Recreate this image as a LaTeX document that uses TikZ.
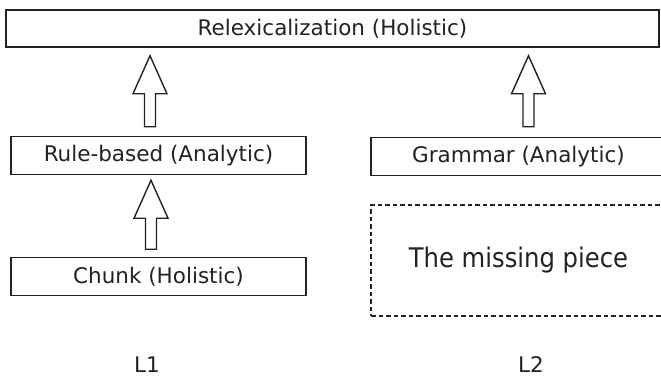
\documentclass[tikz,border=0pt]{standalone}
\usepackage{fontspec}
\setmainfont{DejaVu Sans}
\newfontfamily\condfont{DejaVu Sans Condensed}
\usetikzlibrary{calc}
\definecolor{ink}{HTML}{222222}
\tikzset{
  box/.style={draw=ink,line width=1.5pt,minimum width=295pt,minimum height=38pt,
    inner sep=0pt,text=ink,font=\fontsize{21.5}{26}\selectfont},
  dashbox/.style={box,dash pattern=on 4.5pt off 3pt,minimum height=111pt,
    font=\condfont\fontsize{27}{32}\selectfont},
  lang/.style={anchor=base,inner sep=0pt,text=ink,font=\fontsize{21.5}{26}\selectfont},
  hollow/.style={draw=ink,line width=1.4pt,line join=miter,fill=white}
}
% hollow block arrow: #1 foot of the shaft, #2 tip
\newcommand{\blockarrow}[2]{\draw[hollow] ($(#1)+(-5.5,0)$) -- ($(#2)+(-5.5,38)$) -- ($(#2)+(-17,38)$)
  -- (#2) -- ($(#2)+(17,38)$) -- ($(#2)+(5.5,38)$) -- ($(#1)+(5.5,0)$) -- cycle;}
\begin{document}
\begin{tikzpicture}[x=1pt,y=-1pt]
\useasboundingbox (0,0) rectangle (661,378);
\clip (0,0) rectangle (661,378);
\node[box,minimum width=653pt,minimum height=37pt] (relex) at (332.5,28.5) {Relexicalization (Holistic)};
\node[box] (rule) at (158.5,155.5) {Rule-based (Analytic)};
\node[box] (chunk) at (158.5,276.5) {Chunk (Holistic)};
\node[box] (grammar) at (518.5,156.5) {Grammar (Analytic)};
\node[dashbox] (missing) at (518.5,260.5) {The missing piece};
\node[lang] (l1) at (147,372) {L1};
\node[lang] (l2) at (531,372) {L2};
% arrows
\coordinate (tip1) at ($(relex.south -| rule.south)+(-8.5,8)$);
\coordinate (foot1) at ($(rule.north)+(-8.5,-9)$);
\coordinate (tip2) at ($(relex.south -| grammar.south)+(10,8)$);
\coordinate (foot2) at ($(grammar.north)+(10,-10)$);
\coordinate (tip3) at ($(rule.south)+(-7.5,5)$);
\coordinate (foot3) at ($(chunk.north)+(-7.5,-7.5)$);
\blockarrow{foot1}{tip1}
\blockarrow{foot2}{tip2}
\blockarrow{foot3}{tip3}
\end{tikzpicture}
\end{document}
